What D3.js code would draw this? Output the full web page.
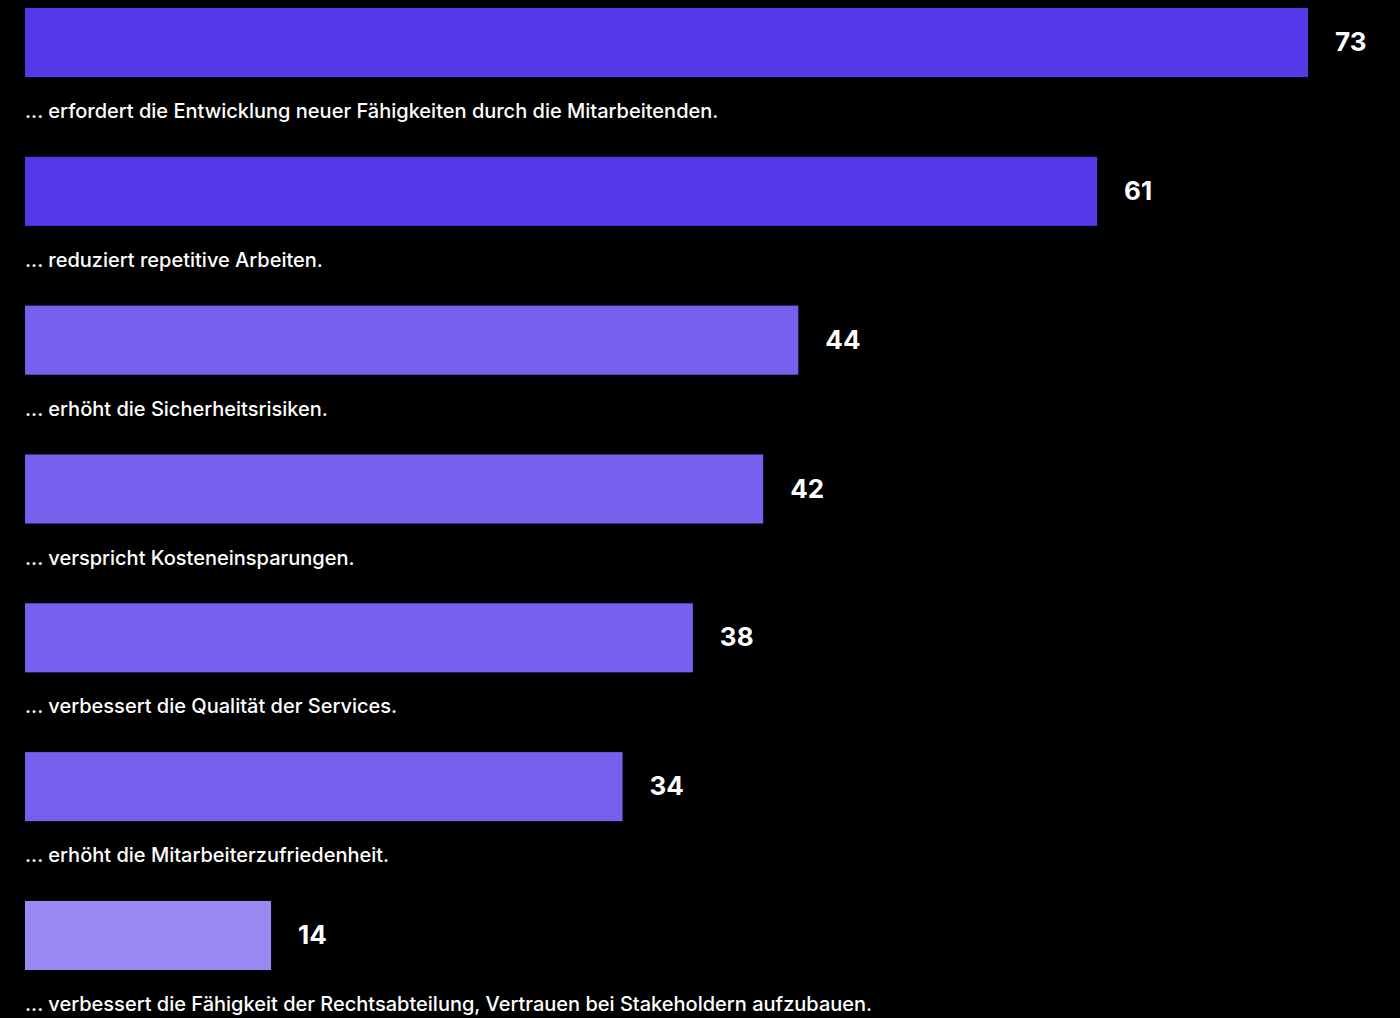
<!DOCTYPE html>
<html>
<head>
<meta charset="utf-8">
<script src="https://cdn.jsdelivr.net/npm/d3@7"></script>
<style>
  html, body { margin: 0; padding: 0; background: #000; }
  svg { display: block; }
</style>
</head>
<body>
<svg id="chart" width="1400" height="1018"></svg>
<script>
// Statements and share of respondents (%)
const categories = [
  "... erfordert die Entwicklung neuer Fähigkeiten durch die Mitarbeitenden.",
  "... reduziert repetitive Arbeiten.",
  "... erhöht die Sicherheitsrisiken.",
  "... verspricht Kosteneinsparungen.",
  "... verbessert die Qualität der Services.",
  "... erhöht die Mitarbeiterzufriedenheit.",
  "... verbessert die Fähigkeit der Rechtsabteilung, Vertrauen bei Stakeholdern aufzubauen."
];
const values = [73, 61, 44, 42, 38, 34, 14];
const tiers = ["high", "high", "mid", "mid", "mid", "mid", "low"];

const svg = d3.select("#chart");

const x = d3.scaleLinear().domain([0, 73]).range([25, 1308]);
const y = d3.scaleBand()
  .domain(categories)
  .range([8, 970])
  .paddingInner(0.536)
  .paddingOuter(0);

const color = d3.scaleOrdinal()
  .domain(["high", "mid", "low"])
  .range(["#5538e8", "#7661ee", "#9a89f3"]);

const rows = categories.map((c, i) => ({ label: c, value: values[i], tier: tiers[i] }));

const g = svg.selectAll("g.row").data(rows).join("g").attr("class", "row");

g.append("rect")
  .attr("x", x(0))
  .attr("y", d => y(d.label))
  .attr("width", d => x(d.value) - x(0))
  .attr("height", y.bandwidth())
  .attr("fill", d => color(d.tier));

g.append("text")
  .attr("x", d => x(d.value) + 27)
  .attr("y", d => y(d.label) + y.bandwidth() / 2)
  .attr("dy", "0.33em")
  .attr("fill", "#fff")
  .attr("font-family", "Inter, 'Noto Sans', sans-serif")
  .attr("font-weight", 700)
  .attr("font-size", 26)
  .text(d => d.value);

g.append("text")
  .attr("x", x(0))
  .attr("y", d => y(d.label) + y.bandwidth() + 41)
  .attr("fill", "#fff")
  .attr("font-family", "Inter, 'Noto Sans', sans-serif")
  .attr("font-weight", 500)
  .attr("font-size", 20)
  .text(d => d.label);
</script>
</body>
</html>
